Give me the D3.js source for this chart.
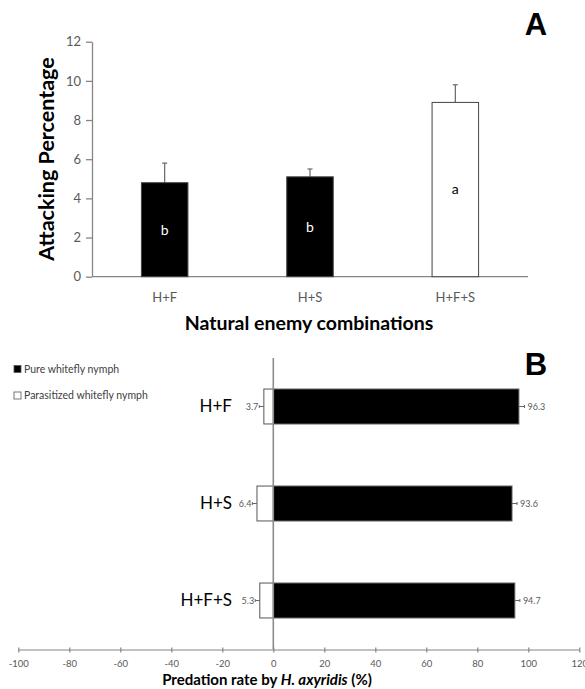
<!DOCTYPE html>
<html lang="en">
<head>
<meta charset="UTF-8">
<title>Attacking percentage and predation rate</title>
<script src="https://d3js.org/d3.v7.min.js"></script>
<style>
  body { margin: 0; background: #fff; }
  svg text { font-family: Lato, "Open Sans", sans-serif; }
</style>
</head>
<body>
<div id="chart"></div>
<script>
  // PANEL A DATA
  var combos = ["H+F", "H+S", "H+F+S"];
  var attackMean = [4.8, 5.1, 8.9];
  var attackErr = [1.0, 0.4, 0.9];
  var attackLetters = ["b", "b", "a"];
  var attackFill = ["#000", "#000", "#fff"];
  var yTicksA = [0, 2, 4, 6, 8, 10, 12];

  // PANEL B DATA
  var pureRate = [96.3, 93.6, 94.7];
  var paraRate = [3.7, 6.4, 5.3];
  var pureErr = [2.2, 2.0, 2.0];
  var paraErr = [1.8, 1.8, 1.8];
  var xTicksB = [-100, -80, -60, -40, -20, 0, 20, 40, 60, 80, 100, 120];
  var legendLabels = ["Pure whitefly nymph", "Parasitized whitefly nymph"];

  var axisGrey = "#868686", textGrey = "#595959";

  var svg = d3.select("#chart").append("svg")
    .attr("width", 585).attr("height", 689);

  // ---------- A ----------
  var xA = d3.scaleBand().domain(combos).range([92, 528])
    .paddingInner(0.68).paddingOuter(0.34);
  var yA = d3.scaleLinear().domain([0, 12]).range([276.7, 41.7]);

  var gA = svg.append("g");

  var yAxisA = gA.append("g")
    .attr("transform", "translate(92,0)")
    .call(d3.axisLeft(yA).tickValues(yTicksA).tickSizeInner(6).tickSizeOuter(0).tickPadding(5));
  yAxisA.selectAll("line, path").attr("stroke", axisGrey).attr("stroke-width", 1.3);
  yAxisA.selectAll("text").attr("fill", textGrey).style("font-size", "13px");

  gA.append("line")
    .attr("x1", 92).attr("x2", 528)
    .attr("y1", yA(0)).attr("y2", yA(0))
    .attr("stroke", axisGrey).attr("stroke-width", 1.3);

  combos.forEach(function(c, i) {
    var cx = xA(c) + xA.bandwidth() / 2;
    // error bar
    gA.append("line")
      .attr("x1", cx).attr("x2", cx)
      .attr("y1", yA(attackMean[i])).attr("y2", yA(attackMean[i] + attackErr[i]))
      .attr("stroke", "#666").attr("stroke-width", 1.2);
    gA.append("line")
      .attr("x1", cx - 2.5).attr("x2", cx + 2.5)
      .attr("y1", yA(attackMean[i] + attackErr[i])).attr("y2", yA(attackMean[i] + attackErr[i]))
      .attr("stroke", "#666").attr("stroke-width", 1.2);
    gA.append("rect")
      .attr("x", xA(c)).attr("width", xA.bandwidth())
      .attr("y", yA(attackMean[i])).attr("height", yA(0) - yA(attackMean[i]))
      .attr("fill", attackFill[i]).attr("stroke", "#444").attr("stroke-width", 1);
    gA.append("text")
      .attr("x", cx).attr("y", (yA(attackMean[i]) + yA(0)) / 2)
      .attr("dy", "0.35em").attr("text-anchor", "middle")
      .attr("fill", attackFill[i] == "#000" ? "#fff" : "#000")
      .style("font-size", "14px")
      .text(attackLetters[i]);
    gA.append("text")
      .attr("x", cx).attr("y", 297).attr("dy", "0.35em")
      .attr("text-anchor", "middle").attr("fill", textGrey)
      .style("font-size", "13px").text(c);
  });

  gA.append("text")
    .attr("x", 309).attr("y", 330).attr("text-anchor", "middle")
    .style("font-size", "19.5px").style("font-weight", "bold")
    .text("Natural enemy combinations");

  gA.append("text")
    .attr("transform", "translate(54,159) rotate(-90)")
    .attr("text-anchor", "middle")
    .style("font-size", "21.5px").style("font-weight", "bold")
    .text("Attacking Percentage");

  gA.append("text")
    .attr("x", 536).attr("y", 35).attr("text-anchor", "middle")
    .style("font-family", "'Liberation Sans', Arial, sans-serif")
    .style("font-size", "31px").style("font-weight", "bold")
    .text("A");

  // ---------- B ----------
  var xB = d3.scaleLinear().domain([-100, 120]).range([18.3, 579.3]);
  var yB = d3.scaleBand().domain(combos).range([358, 649])
    .paddingInner(0.64).paddingOuter(0.32);

  var gB = svg.append("g");

  var xAxisB = gB.append("g")
    .attr("transform", "translate(0,649.5)")
    .call(d3.axisBottom(xB).tickValues(xTicksB).tickFormat(function(d) { return String(d); })
      .tickSizeInner(3).tickSizeOuter(0).tickPadding(8));
  xAxisB.selectAll("line, path").attr("stroke", axisGrey).attr("stroke-width", 1.2);
  xAxisB.selectAll(".tick line").attr("y1", -2);
  xAxisB.selectAll("text").attr("fill", textGrey).style("font-size", "9.5px");

  combos.forEach(function(c, i) {
    var y0 = yB(c), h = yB.bandwidth(), cy = y0 + h / 2;
    gB.append("rect")
      .attr("x", xB(0)).attr("width", xB(pureRate[i]) - xB(0))
      .attr("y", y0).attr("height", h)
      .attr("fill", "#000").attr("stroke", "#555").attr("stroke-width", 1);
    gB.append("rect")
      .attr("x", xB(-paraRate[i])).attr("width", xB(0) - xB(-paraRate[i]))
      .attr("y", y0).attr("height", h)
      .attr("fill", "#fff").attr("stroke", "#555").attr("stroke-width", 1);

    // small error whiskers
    var pe = xB(pureRate[i] + pureErr[i]);
    gB.append("line").attr("x1", xB(pureRate[i])).attr("x2", pe)
      .attr("y1", cy).attr("y2", cy).attr("stroke", "#666").attr("stroke-width", 1);
    gB.append("line").attr("x1", pe).attr("x2", pe)
      .attr("y1", cy - 1.5).attr("y2", cy + 1.5).attr("stroke", "#666").attr("stroke-width", 1);
    var ne = xB(-paraRate[i] - paraErr[i]);
    gB.append("line").attr("x1", xB(-paraRate[i])).attr("x2", ne)
      .attr("y1", cy).attr("y2", cy).attr("stroke", "#666").attr("stroke-width", 1);
    gB.append("line").attr("x1", ne).attr("x2", ne)
      .attr("y1", cy - 1.5).attr("y2", cy + 1.5).attr("stroke", "#666").attr("stroke-width", 1);

    gB.append("text")
      .attr("x", pe + 3).attr("y", cy).attr("dy", "0.35em")
      .attr("fill", textGrey).style("font-size", "9px")
      .text(pureRate[i].toFixed(1));
    gB.append("text")
      .attr("x", ne - 1).attr("y", cy).attr("dy", "0.35em")
      .attr("text-anchor", "end")
      .attr("fill", textGrey).style("font-size", "9px")
      .text(paraRate[i].toFixed(1));

    gB.append("text")
      .attr("x", 232).attr("y", cy).attr("dy", "0.35em")
      .attr("text-anchor", "end").attr("fill", "#000")
      .style("font-size", "17px").text(c);
  });

  // zero line
  gB.append("line")
    .attr("x1", xB(0)).attr("x2", xB(0))
    .attr("y1", 358).attr("y2", 649.5)
    .attr("stroke", "#8c8c8c").attr("stroke-width", 1.6);

  // legend
  var legend = gB.selectAll(".legend").data(legendLabels).enter().append("g")
    .attr("transform", function(d, i) { return "translate(14," + (369 + i * 26.5) + ")"; });
  legend.append("rect")
    .attr("x", 0).attr("y", -3.5).attr("width", 7).attr("height", 7)
    .attr("fill", function(d, i) { return i == 0 ? "#000" : "#fff"; })
    .attr("stroke", "#555").attr("stroke-width", 0.8);
  legend.append("text")
    .attr("x", 10).attr("y", 0).attr("dy", "0.35em")
    .attr("fill", "#404040").style("font-size", "10.5px")
    .text(function(d) { return d; });

  var title = gB.append("text")
    .attr("x", 267).attr("y", 685).attr("text-anchor", "middle")
    .style("font-size", "15px").style("font-weight", "bold");
  title.append("tspan").text("Predation rate by ");
  title.append("tspan").style("font-style", "italic").text("H. axyridis");
  title.append("tspan").text(" (%)");

  gB.append("text")
    .attr("x", 536).attr("y", 375).attr("text-anchor", "middle")
    .style("font-family", "'Liberation Sans', Arial, sans-serif")
    .style("font-size", "31px").style("font-weight", "bold")
    .text("B");
</script>
</body>
</html>
